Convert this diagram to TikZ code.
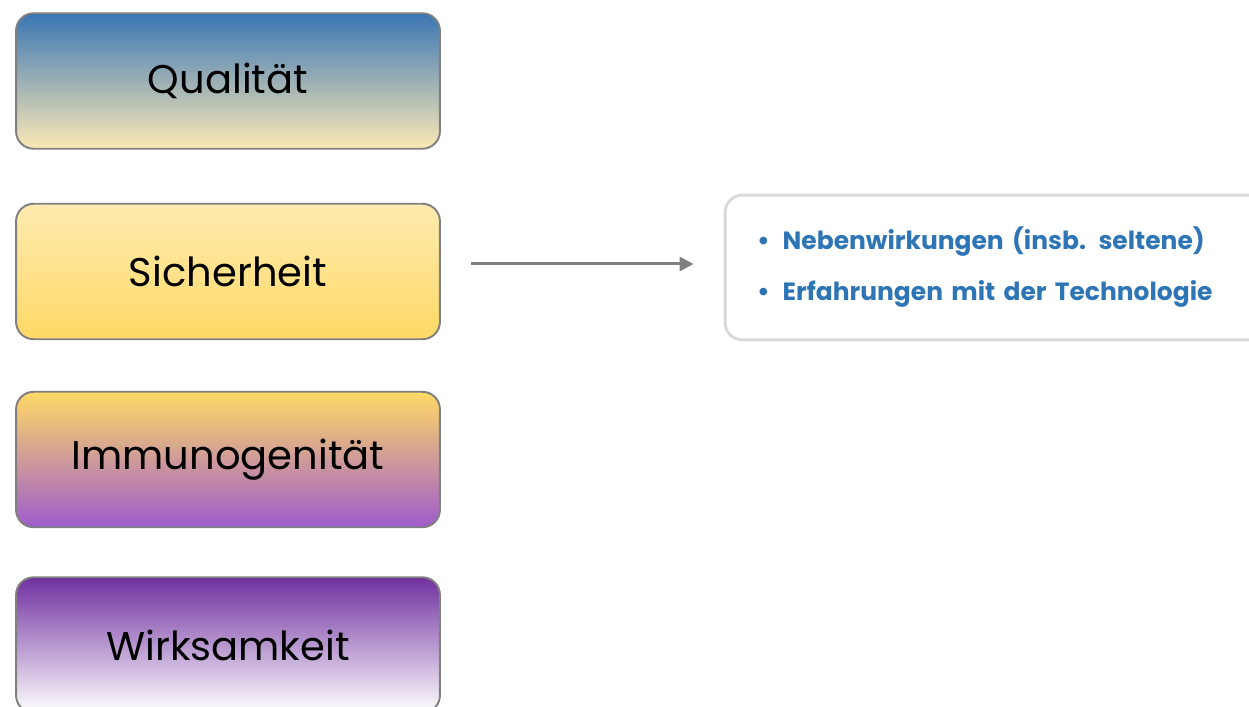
\documentclass[tikz,border=0pt]{standalone}
\usepackage{fontspec}
\setsansfont{Poppins}
\usetikzlibrary{arrows.meta, calc}
\definecolor{qualtop}{HTML}{3A76B4}
\definecolor{qualmid}{HTML}{B2B2AE}
\definecolor{qualbot}{HTML}{FCE9B6}
\definecolor{sichtop}{HTML}{FFEBB0}
\definecolor{sichbot}{HTML}{FFD966}
\definecolor{immmid}{HTML}{DCA8A4}
\definecolor{immbot}{HTML}{9E5CCC}
\definecolor{wirktop}{HTML}{7030A0}
\definecolor{wirkmid}{HTML}{BCAED2}
\definecolor{framecol}{HTML}{808080}
\definecolor{infoframe}{HTML}{D9D9D9}
\definecolor{textblue}{HTML}{2E75B6}
\definecolor{arrcol}{HTML}{7F7F7F}

\begin{document}
\begin{tikzpicture}[
    x=0.02cm, y=-0.02cm,
    every node/.style={font=\sffamily},
    catbox/.style={
        draw=framecol, rounded corners=10pt, line width=1.1pt,
        minimum width=8.48cm, minimum height=2.71cm,
        font=\sffamily\fontsize{22.8}{27}\selectfont, text=black,
    },
    infobox/.style={
        draw=infoframe, rounded corners=10pt, line width=1.7pt, fill=white,
        minimum width=10.8cm, minimum height=2.9cm,
        inner xsep=0.64cm, text width=9.52cm, align=left,
        font=\sffamily\bfseries\fontsize{14.2}{29}\selectfont, text=textblue,
    },
    arr/.style={-{Triangle[length=8pt, width=8pt]}, line width=1.7pt, draw=arrcol},
]
\clip (0, 0) rectangle (1249, 707);

% === Category boxes (left column) ===
\node[catbox, top color=qualtop, middle color=qualmid, bottom color=qualbot]
    (qual) at (228, 81) {Qualität};
\node[catbox, top color=sichtop, bottom color=sichbot]
    (sich) at (228, 271.5) {Sicherheit};
\node[catbox, top color=sichbot, middle color=immmid, bottom color=immbot]
    (immun) at (228, 459.5) {Immunogenität};
\node[catbox, top color=wirktop, middle color=wirkmid, bottom color=white]
    (wirk) at (228, 645) {Wirksamkeit};

% === Details for Sicherheit ===
\node[infobox] (info) at (995, 267.5) {
    {\Large\textbullet}\hspace{0.26cm}Nebenwirkungen (insb. seltene)\\
    {\Large\textbullet}\hspace{0.26cm}Erfahrungen mit der Technologie
};

\draw[arr, shorten <=0.6cm, shorten >=0.6cm]
    ([yshift=2pt]info.west -| sich.east) -- ([yshift=2pt]info.west);

\end{tikzpicture}
\end{document}
